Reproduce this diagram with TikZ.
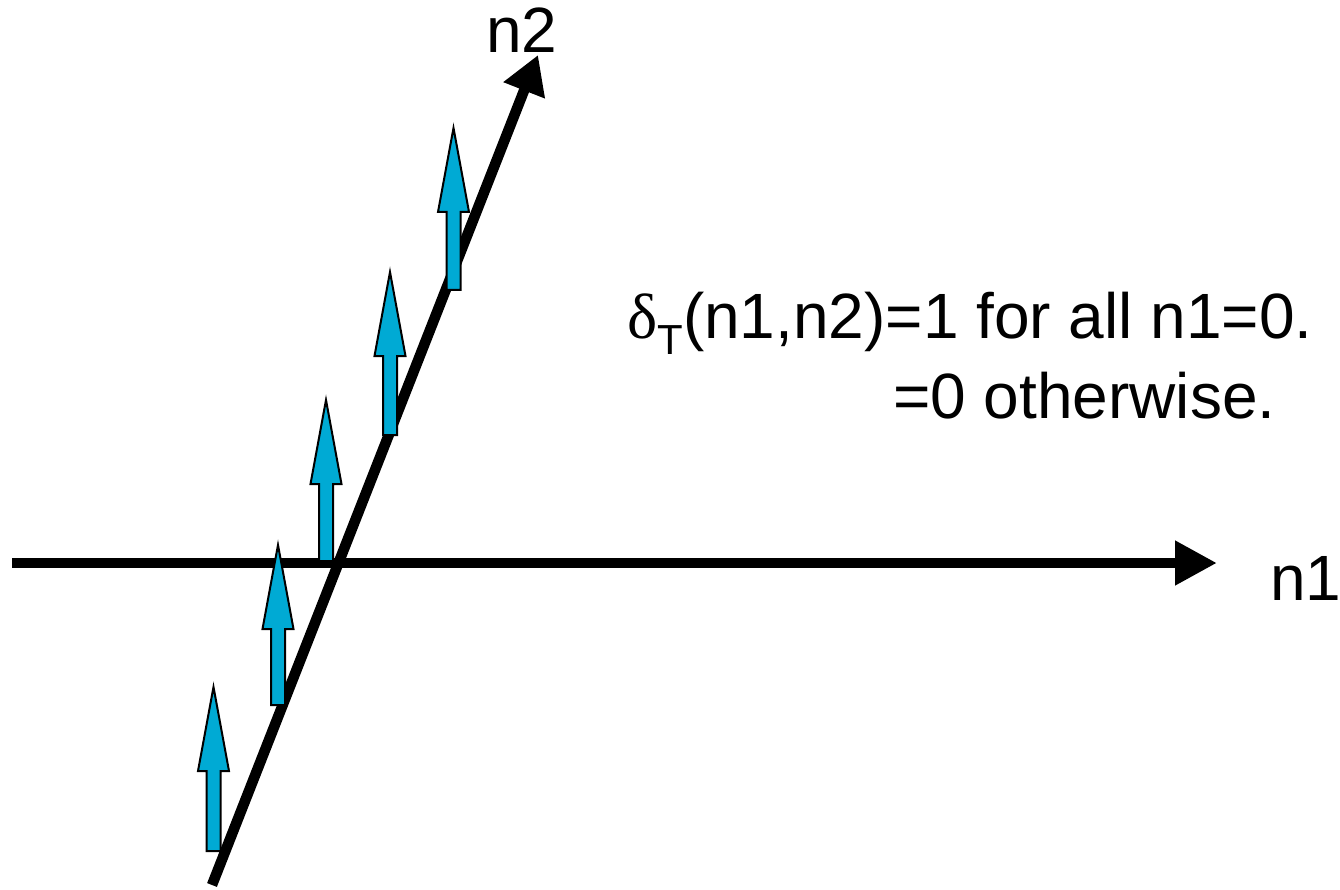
\documentclass[tikz,border=0pt]{standalone}
\usepackage{fontspec}
\setmainfont{Liberation Sans}
\newfontfamily\greekfont{Liberation Serif}
\usetikzlibrary{arrows.meta}
\definecolor{pulseblue}{RGB}{0,170,212}
\tikzset{
	axis/.style={line width=10.5pt},
	pulse/.style={draw=black,line width=2pt,fill=pulseblue,line join=miter},
	lbl/.style={inner sep=0pt,font=\fontsize{64}{77}\selectfont}
}

\begin{document}
\begin{tikzpicture}[x=1pt,y=-1pt]
				\useasboundingbox (0,0) rectangle (1340,890);
				% axes
				\coordinate (h0) at (12,563);
				\coordinate (h1) at (1217,563);
				\coordinate (d0) at (212,885);
				\coordinate (d1) at (538,55);
				\draw[axis,-{Triangle[length=42pt,width=42pt]}] (h0) to (h1);
				\draw[axis,-{Triangle[length=38pt,width=42pt]}] (d0) to (d1);
				% unit pulses on the line n1=0
				\foreach \cx/\tip/\bot in {213.5/687/851, 278/545/705, 326/400/561, 390/272/435, 453.5/128/290}
					\draw[pulse] (\cx-7,\bot) -- (\cx-7,\tip+84) -- (\cx-15.5,\tip+84) -- (\cx,\tip)
						-- (\cx+15.5,\tip+84) -- (\cx+7,\tip+84) -- (\cx+7,\bot) -- cycle;
				% labels
				\node[lbl,anchor=base west] (n1) at (1270,600) {n1};
				\node[lbl,anchor=base west] (n2) at (486,53) {n2};
				\node[lbl,anchor=base west] (def) at (627,338)
					{{\greekfont δ}\raisebox{-16pt}{\fontsize{42}{46}\selectfont T}(n1,n2)=1 for all n1=0.};
				\node[lbl,anchor=base west] (other) at (893,418) {=0 otherwise.};
			\end{tikzpicture}
\end{document}
